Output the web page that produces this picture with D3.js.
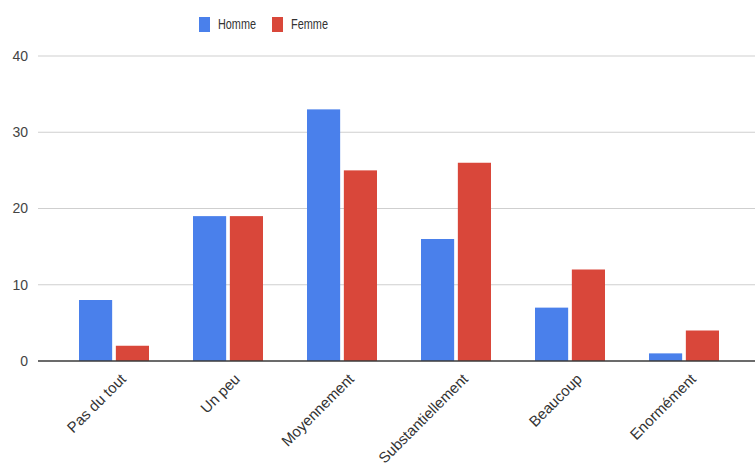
<!DOCTYPE html>
<html>
<head>
<meta charset="utf-8">
<script src="https://cdn.jsdelivr.net/npm/d3@7"></script>
<style>
  html, body { margin: 0; padding: 0; background: #fff; }
  svg { display: block; }
  text { font-family: "Liberation Sans", Arial, sans-serif; }
</style>
</head>
<body>
<svg id="chart" width="755" height="466"></svg>
<script>
// Réponses par niveau, selon le genre
const categories = ["Pas du tout", "Un peu", "Moyennement", "Substantiellement", "Beaucoup", "Enormément"];
const seriesNames = ["Homme", "Femme"];
const homme = [8, 19, 33, 16, 7, 1];
const femme = [2, 19, 25, 26, 12, 4];
const yTicks = [0, 10, 20, 30, 40];
const colors = ["#4a80eb", "#d9473a"];

const svg = d3.select("#chart");
const W = 755;

const y = d3.scaleLinear().domain([0, 40]).range([361, 56]);
const x0 = d3.scaleBand().domain(categories).range([57, 741])
  .paddingInner(0.386).paddingOuter(0.193);
const x1 = d3.scaleBand().domain(seriesNames).range([0, x0.bandwidth()])
  .paddingInner(0.1).paddingOuter(0);
const color = d3.scaleOrdinal().domain(seriesNames).range(colors);

// Grille horizontale
svg.append("g").selectAll("line")
  .data(yTicks.filter(t => t !== 0))
  .join("line")
  .attr("x1", 38).attr("x2", W)
  .attr("y1", d => y(d)).attr("y2", d => y(d))
  .attr("stroke", "#cfcfcf").attr("stroke-width", 1);

// Étiquettes de l'axe vertical
const yAxis = d3.axisLeft(y).tickValues(yTicks).tickSize(0).tickPadding(0);
const gy = svg.append("g").attr("transform", "translate(28,0)").call(yAxis);
gy.select(".domain").remove();
gy.selectAll("text")
  .attr("font-size", 14).attr("fill", "#444")
  .style("font-family", "'Liberation Sans', Arial, sans-serif");

// Barres
const rows = categories.map((c, i) => ({ cat: c, values: [homme[i], femme[i]] }));
const groups = svg.append("g").selectAll("g")
  .data(rows).join("g")
  .attr("transform", d => `translate(${x0(d.cat)},0)`);
groups.selectAll("rect")
  .data(d => seriesNames.map((s, j) => ({ s, v: d.values[j] })))
  .join("rect")
  .attr("x", d => x1(d.s))
  .attr("width", x1.bandwidth())
  .attr("y", d => y(d.v))
  .attr("height", d => y(0) - y(d.v))
  .attr("fill", d => color(d.s));

// Ligne de base
svg.append("line")
  .attr("x1", 38).attr("x2", W)
  .attr("y1", y(0)).attr("y2", y(0))
  .attr("stroke", "#3a3a3a").attr("stroke-width", 1.3);

// Étiquettes des catégories, inclinées
svg.append("g").selectAll("text")
  .data(categories).join("text")
  .attr("transform", d => `translate(${x0(d) + x0.bandwidth() / 2 + 13},380) rotate(-45)`)
  .attr("text-anchor", "end")
  .attr("font-size", 15)
  .attr("fill", "#333")
  .text(d => d);

// Légende
const legend = svg.append("g");
const legendItems = [{ name: "Homme", x: 199 }, { name: "Femme", x: 272 }];
legendItems.forEach(it => {
  legend.append("rect").attr("x", it.x).attr("y", 17).attr("width", 11).attr("height", 15)
    .attr("fill", color(it.name));
  legend.append("text").attr("x", it.x + 19).attr("y", 29)
    .attr("font-size", 14.5).attr("fill", "#333")
    .attr("textLength", it.name === "Homme" ? 38 : 37)
    .attr("lengthAdjust", "spacingAndGlyphs")
    .text(it.name);
});
</script>
</body>
</html>
